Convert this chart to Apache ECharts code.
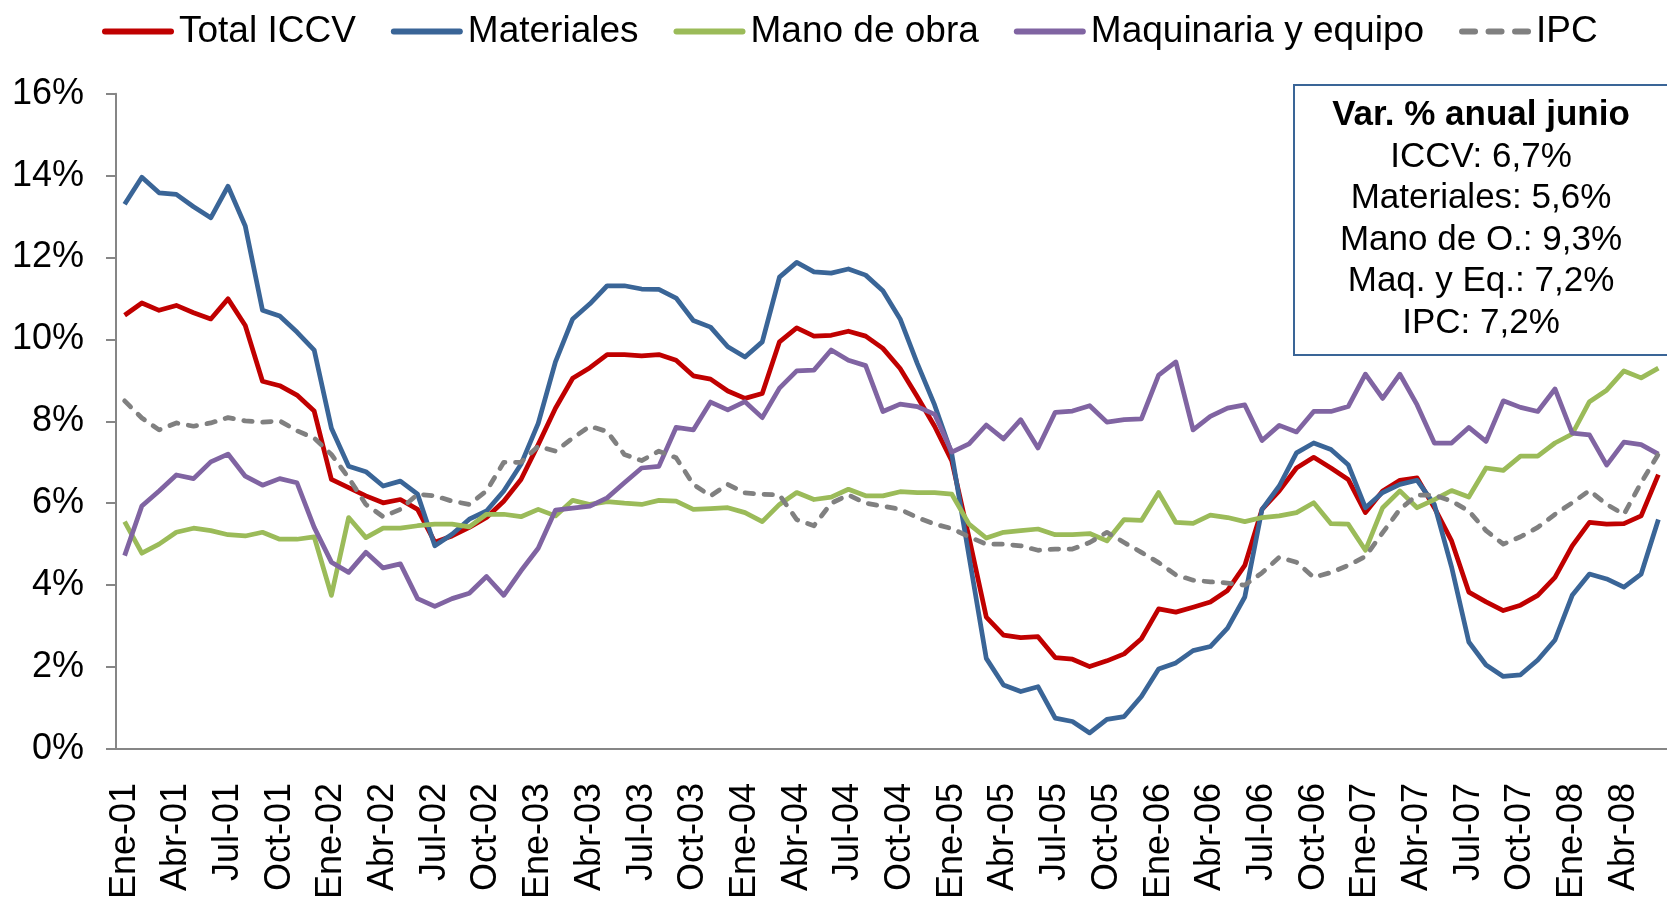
<!DOCTYPE html>
<html>
<head>
<meta charset="utf-8">
<title>ICCV - variación anual</title>
<script src="https://cdn.jsdelivr.net/npm/echarts@6/dist/echarts.min.js"></script>
<style>
  html, body { margin: 0; padding: 0; background: #ffffff; }
  #myChart { width: 1667px; height: 902px; }
</style>
</head>
<body>
<div id="myChart"></div>
<script>
'use strict';

// --- tick labels: monthly from Ene-01 to Jun-08
var monthNames = ['Ene', 'Feb', 'Mar', 'Abr', 'May', 'Jun', 'Jul', 'Ago', 'Sep', 'Oct', 'Nov', 'Dic'];
var years = ['01', '02', '03', '04', '05', '06', '07', '08'];
var monthsInLastYear = 6;

var seriesNames = ['Total ICCV', 'Materiales', 'Mano de obra', 'Maquinaria y equipo', 'IPC'];

// --- values in %
var totalIccv = [
  10.59, 10.89, 10.71, 10.83, 10.65, 10.5, 10.99, 10.34, 8.98, 8.87, 8.64, 8.25,
  6.58, 6.38, 6.18, 6.01, 6.09, 5.85, 5.05, 5.2, 5.41, 5.65, 6.05, 6.58,
  7.43, 8.32, 9.05, 9.31, 9.63, 9.63, 9.6, 9.63, 9.49, 9.11, 9.03, 8.74,
  8.56, 8.68, 9.94, 10.28, 10.08, 10.1, 10.2, 10.08, 9.78, 9.29, 8.6, 7.88,
  7.03, 5.16, 3.22, 2.78, 2.72, 2.74, 2.23, 2.19, 2.01, 2.15, 2.32, 2.69,
  3.42, 3.34, 3.46, 3.59, 3.87, 4.48, 5.85, 6.3, 6.86, 7.12, 6.86, 6.58,
  5.77, 6.3, 6.56, 6.62, 5.89, 5.08, 3.83, 3.59, 3.38, 3.51, 3.75, 4.19,
  4.96, 5.53, 5.49, 5.5, 5.69, 6.7
];
var materiales = [
  13.3, 13.96, 13.58, 13.54, 13.24, 12.97, 13.74, 12.77, 10.71, 10.57, 10.18, 9.74,
  7.83, 6.9, 6.77, 6.42, 6.54, 6.22, 4.96, 5.24, 5.61, 5.81, 6.3, 6.95,
  7.95, 9.45, 10.5, 10.87, 11.31, 11.31, 11.23, 11.22, 11.01, 10.46, 10.3, 9.82,
  9.57, 9.94, 11.52, 11.88, 11.65, 11.62, 11.72, 11.57, 11.19, 10.5, 9.41, 8.4,
  7.2, 4.7, 2.21, 1.56, 1.4, 1.52, 0.75, 0.67, 0.39, 0.72, 0.79, 1.28,
  1.95, 2.1, 2.4, 2.5, 2.95, 3.71, 5.85, 6.42, 7.23, 7.47, 7.31, 6.94,
  5.89, 6.26, 6.46, 6.56, 5.97, 4.44, 2.61, 2.05, 1.77, 1.81, 2.17, 2.66,
  3.75, 4.27, 4.15, 3.95, 4.27, 5.6
];
var manoDeObra = [
  5.55, 4.78, 5.0, 5.29, 5.39, 5.33, 5.23, 5.2, 5.29, 5.12, 5.12, 5.18,
  3.75, 5.65, 5.16, 5.39, 5.39, 5.45, 5.49, 5.49, 5.42, 5.73, 5.73, 5.67,
  5.85, 5.69, 6.07, 5.97, 6.04, 6.0, 5.97, 6.07, 6.05, 5.85, 5.87, 5.89,
  5.77, 5.55, 5.97, 6.26, 6.09, 6.15, 6.34, 6.18, 6.18, 6.28, 6.26, 6.26,
  6.22, 5.49, 5.15, 5.29, 5.33, 5.37, 5.23, 5.23, 5.26, 5.08, 5.6, 5.58,
  6.26, 5.53, 5.51, 5.71, 5.65, 5.55, 5.65, 5.69, 5.77, 6.01, 5.5, 5.49,
  4.85, 5.89, 6.3, 5.89, 6.09, 6.31, 6.15, 6.86, 6.8, 7.15, 7.15, 7.47,
  7.69, 8.48, 8.76, 9.23, 9.06, 9.3
];
var maquinaria = [
  4.72, 5.93, 6.3, 6.69, 6.6, 7.01, 7.2, 6.66, 6.44, 6.6, 6.5, 5.41,
  4.56, 4.31, 4.8, 4.42, 4.52, 3.67, 3.48, 3.67, 3.8, 4.21, 3.75, 4.35,
  4.9, 5.83, 5.88, 5.93, 6.13, 6.5, 6.86, 6.9, 7.85, 7.79, 8.47, 8.28,
  8.48, 8.09, 8.81, 9.23, 9.25, 9.74, 9.49, 9.36, 8.24, 8.42, 8.36, 8.17,
  7.25, 7.45, 7.91, 7.57, 8.04, 7.35, 8.22, 8.25, 8.38, 7.98, 8.04, 8.06,
  9.13, 9.45, 7.79, 8.12, 8.32, 8.4, 7.53, 7.9, 7.74, 8.24, 8.24, 8.36,
  9.15, 8.56, 9.15, 8.4, 7.47, 7.47, 7.85, 7.51, 8.5, 8.34, 8.24, 8.79,
  7.71, 7.67, 6.93, 7.49, 7.43, 7.2
];
var ipc = [
  8.5, 8.08, 7.79, 7.96, 7.88, 7.96, 8.09, 8.01, 7.98, 8.01, 7.77, 7.59,
  7.19, 6.62, 5.97, 5.67, 5.85, 6.22, 6.18, 6.05, 5.97, 6.3, 7.0, 7.0,
  7.39, 7.27, 7.59, 7.88, 7.75, 7.19, 7.04, 7.27, 7.11, 6.46, 6.18, 6.46,
  6.25, 6.22, 6.2, 5.6, 5.45, 6.0, 6.2, 6.0, 5.93, 5.85, 5.65, 5.49,
  5.38, 5.18, 5.0, 5.0, 4.96, 4.85, 4.88, 4.88, 5.04, 5.29, 5.04, 4.8,
  4.55, 4.25, 4.12, 4.08, 4.05, 4.0, 4.3, 4.68, 4.56, 4.19, 4.31, 4.48,
  4.7, 5.28, 5.85, 6.2, 6.2, 6.05, 5.81, 5.33, 5.0, 5.18, 5.41, 5.73,
  6.01, 6.31, 5.97, 5.73, 6.5, 7.2
];

// --- text box
var boxTitle = 'Var. % anual junio';
var boxLines = ['ICCV: 6,7%', 'Materiales: 5,6%', 'Mano de O.: 9,3%', 'Maq. y Eq.: 7,2%', 'IPC: 7,2%'];

var fontFamily = "'Liberation Sans', Arial, Helvetica, sans-serif";
var colors = ['#C00000', '#3A6597', '#9BBB59', '#8064A2', '#808080'];

// legend glyphs: a thick bar, and a three-dash bar for IPC
var solidIcon = 'path://M3,0 L69,0 A3,3 0 0 1 69,6 L3,6 A3,3 0 0 1 3,0 Z';
var dashedIcon = 'path://M3,0 L16,0 A3,3 0 0 1 16,6 L3,6 A3,3 0 0 1 3,0 Z ' +
  'M29.5,0 L42.5,0 A3,3 0 0 1 42.5,6 L29.5,6 A3,3 0 0 1 29.5,0 Z ' +
  'M56,0 L69,0 A3,3 0 0 1 69,6 L56,6 A3,3 0 0 1 56,0 Z';

var categories = [];
years.forEach(function (yy, idx, arr) {
  var count = idx === arr.length - 1 ? monthsInLastYear : 12;
  for (var m = 0; m < count; m++) {
    categories.push(monthNames[m] + '-' + yy);
  }
});

function makeLine(name, data, color, dashed) {
  return {
    name: name,
    type: 'line',
    data: data,
    symbol: 'none',
    smooth: false,
    lineStyle: {
      color: color,
      width: 4.75,
      type: dashed ? [8.5, 10.5] : 'solid',
      cap: dashed ? 'round' : 'butt',
      join: 'round'
    },
    itemStyle: { color: color }
  };
}

function buildBox() {
  var elements = [{
    type: 'rect',
    shape: { x: 1294, y: 85, width: 376, height: 270 },
    style: { fill: '#ffffff', stroke: '#3A6597', lineWidth: 2 },
    z: 100
  }, {
    type: 'text',
    x: 1481,
    y: 115,
    style: {
      text: boxTitle,
      fontSize: 35,
      fontWeight: 'bold',
      fontFamily: fontFamily,
      fill: '#000000',
      align: 'center',
      verticalAlign: 'middle'
    },
    z: 101
  }];
  boxLines.forEach(function (line, idx) {
    elements.push({
      type: 'text',
      x: 1481,
      y: 157 + idx * 41.5,
      style: {
        text: line,
        fontSize: 35,
        fontFamily: fontFamily,
        fill: '#000000',
        align: 'center',
        verticalAlign: 'middle'
      },
      z: 101
    });
  });
  return elements;
}

var legendData = seriesNames.map(function (name, idx) {
  return {
    name: name,
    icon: idx === seriesNames.length - 1 ? dashedIcon : solidIcon,
    itemStyle: { color: colors[idx] }
  };
});

var myChart = echarts.init(document.getElementById('myChart'));
var option = {
  animation: false,
  backgroundColor: '#ffffff',
  textStyle: { fontFamily: fontFamily },
  legend: {
    data: legendData,
    left: 97,
    top: 8,
    itemWidth: 72,
    itemHeight: 6,
    itemGap: 35,
    textStyle: { fontSize: 37, color: '#000000', fontFamily: fontFamily }
  },
  grid: {
    left: 116,
    right: -12,
    top: 93.7,
    bottom: 149.3,
    containLabel: false
  },
  xAxis: {
    type: 'category',
    data: categories,
    boundaryGap: true,
    axisLine: { show: true, lineStyle: { color: '#868686', width: 2 } },
    axisTick: { show: false },
    axisLabel: {
      interval: 2,
      rotate: 90,
      margin: 34,
      fontSize: 36,
      color: '#000000',
      fontFamily: fontFamily
    },
    splitLine: { show: false }
  },
  yAxis: {
    type: 'value',
    min: 0,
    max: 16,
    interval: 2,
    axisLine: { show: true, lineStyle: { color: '#868686', width: 2 } },
    axisTick: { show: true, inside: false, length: 10, lineStyle: { color: '#868686', width: 2 } },
    axisLabel: {
      formatter: '{value}%',
      margin: 32,
      fontSize: 36,
      color: '#000000',
      fontFamily: fontFamily
    },
    splitLine: { show: false }
  },
  series: [
    makeLine(seriesNames[0], totalIccv, colors[0], false),
    makeLine(seriesNames[1], materiales, colors[1], false),
    makeLine(seriesNames[2], manoDeObra, colors[2], false),
    makeLine(seriesNames[3], maquinaria, colors[3], false),
    makeLine(seriesNames[4], ipc, colors[4], true)
  ],
  graphic: buildBox()
};
myChart.setOption(option);
</script>
</body>
</html>
